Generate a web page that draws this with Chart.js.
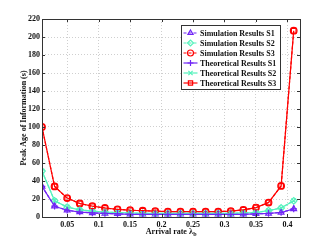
<!DOCTYPE html>
<html>
<head>
<meta charset="utf-8">
<script src="https://cdn.jsdelivr.net/npm/chart.js@4/dist/chart.umd.min.js"></script>
<style>
html,body{margin:0;padding:0;background:#fff;}
canvas{display:block;}
</style>
</head>
<body>
<canvas id="c" width="325" height="244"></canvas>
<script>
const arrivalRates = [0.01,0.03,0.05,0.07,0.09,0.11,0.13,0.15,0.17,0.19,0.21,0.23,0.25,0.27,0.29,0.31,0.33,0.35,0.37,0.39,0.41];
const simS1 = [34,12,7.5,5.5,4.5,4,3.5,3,3,3,3,3,3,3,3,3,3,3.5,4,5,9];
const simS2 = [51,18,11,8,6.5,5.5,5,4.5,4,4,4,4,4,4,4,4,4.5,5,7,10,18];
const simS3 = [100,34,21,15,12,10,8.5,7.5,7,6.5,6,6,6,6,6,6.5,8,10.5,16,34.5,207];
const theoS1 = [34,12,7.5,5.5,4.5,4,3.5,3,3,3,3,3,3,3,3,3,3,3.5,4,5,9];
const theoS2 = [51,18,11,8,6.5,5.5,5,4.5,4,4,4,4,4,4,4,4,4.5,5,7,10,18];
const theoS3 = [100,34,21,15,12,10,8.5,7.5,7,6.5,6,6,6,6,6,6.5,8,10.5,16,34.5,207];
const xTicks = [0.05,0.1,0.15,0.2,0.25,0.3,0.35,0.4];
const yTicks = [0,20,40,60,80,100,120,140,160,180,200,220];
const seriesNames = ['Simulation Results S1','Simulation Results S2','Simulation Results S3','Theoretical Results S1','Theoretical Results S2','Theoretical Results S3'];
const xTitleMain = 'Arrival rate λ';
const xTitleSub = 'b';
const yTitle = 'Peak Age of Information (s)';

const C1 = '#7025f5', C2 = '#55f2bc', C3 = '#ff0000';
const FAMILY = '"Liberation Serif", "Times New Roman", serif';
const FONT = {family: FAMILY, size: 8, weight: 'bold'};

function pts(v){ return arrivalRates.map((x,i)=>({x:x,y:v[i]})); }
function ds(label, data, color, style, dashed){
  return {label, data: pts(data), borderColor: color, backgroundColor: 'rgba(0,0,0,0)',
    pointBorderColor: color, pointBackgroundColor: 'rgba(0,0,0,0)', pointStyle: style,
    pointRadius: 3.3, pointBorderWidth: 1.2, borderWidth: 1.2, borderDash: dashed ? [3,2] : [],
    showLine: true, tension: 0};
}
const datasets = [
  ds(seriesNames[3], theoS1, C1, 'cross', false),
  ds(seriesNames[4], theoS2, C2, 'crossRot', false),
  ds(seriesNames[5], theoS3, C3, 'rect', false),
  ds(seriesNames[0], simS1, C1, 'triangle', true),
  ds(seriesNames[1], simS2, C2, 'rectRot', true),
  ds(seriesNames[2], simS3, C3, 'circle', true)
];
const legendOrder = [3,4,5,0,1,2];

const framePlugin = {
  id: 'frame',
  afterDraw(chart){
    const {ctx, chartArea: a, scales} = chart;
    ctx.save();
    ctx.strokeStyle = '#333'; ctx.lineWidth = 1; ctx.setLineDash([]);
    ctx.strokeRect(Math.round(a.left)+0.5, Math.round(a.top)+0.5, Math.round(a.right-a.left), Math.round(a.bottom-a.top));
    const tl = 3;
    ctx.beginPath();
    xTicks.forEach(v=>{ const x = Math.round(scales.x.getPixelForValue(v))+0.5;
      ctx.moveTo(x,a.bottom); ctx.lineTo(x,a.bottom-tl); ctx.moveTo(x,a.top); ctx.lineTo(x,a.top+tl); });
    yTicks.forEach(v=>{ const y = Math.round(scales.y.getPixelForValue(v))+0.5;
      ctx.moveTo(a.left,y); ctx.lineTo(a.left+tl,y); ctx.moveTo(a.right,y); ctx.lineTo(a.right-tl,y); });
    ctx.stroke();
    // x-axis title with subscript
    ctx.fillStyle = '#111';
    ctx.textBaseline = 'middle';
    const fMain = 'bold 8px ' + FAMILY, fSub = 'bold 6px ' + FAMILY;
    ctx.font = fMain; const w1 = ctx.measureText(xTitleMain).width;
    ctx.font = fSub; const w2 = ctx.measureText(xTitleSub).width;
    const cx = (a.left + a.right) / 2, ty = a.bottom + 15;
    let sx = cx - (w1 + w2) / 2;
    ctx.textAlign = 'left';
    ctx.font = fMain; ctx.fillText(xTitleMain, sx, ty);
    ctx.font = fSub; ctx.fillText(xTitleSub, sx + w1 + 0.3, ty + 2.5);
    // legend
    const bx = Math.round(a.right - 119.5)+0.5, by = Math.round(a.top + 6)+0.5, bw = 99, bh = 64;
    ctx.fillStyle = '#fff'; ctx.fillRect(bx, by, bw, bh);
    ctx.strokeStyle = '#333'; ctx.strokeRect(bx, by, bw, bh);
    ctx.font = fMain;
    ctx.textBaseline = 'middle'; ctx.textAlign = 'left';
    legendOrder.forEach((di, r)=>{
      const d = datasets[di];
      const y = by + 7.5 + r*10;
      ctx.save();
      ctx.strokeStyle = d.borderColor; ctx.lineWidth = 1.2; ctx.setLineDash(d.borderDash);
      ctx.beginPath(); ctx.moveTo(bx+2, y); ctx.lineTo(bx+16, y); ctx.stroke();
      ctx.setLineDash([]);
      ctx.fillStyle = 'rgba(0,0,0,0)';
      Chart.helpers.drawPoint(ctx, {pointStyle: d.pointStyle, radius: 3, rotation: 0, borderWidth: 1.2}, bx+9, y);
      ctx.restore();
      ctx.fillStyle = '#111';
      ctx.fillText(d.label, bx+18.5, y+0.5);
    });
    ctx.restore();
  }
};

new Chart(document.getElementById('c'), {
  type: 'scatter',
  data: {datasets},
  options: {
    responsive: false, animation: false, devicePixelRatio: 1,
    layout: {padding: {left: 19, right: 25, top: 19, bottom: 7}},
    plugins: {legend: {display: false}, tooltip: {enabled: false}},
    scales: {
      x: {
        type: 'linear', min: 0.01, max: 0.42,
        afterBuildTicks: s => { s.ticks = xTicks.map(v=>({value:v})); },
        afterFit: s => { s.height = 20; },
        grid: {color: '#cfcfcf', lineWidth: 1, drawTicks: false},
        border: {display: false, dash: [1,2]},
        ticks: {font: FONT, color: '#111', padding: 3, maxRotation: 0, autoSkip: false,
          callback: v => String(v)},
        title: {display: false}
      },
      y: {
        type: 'linear', min: 0, max: 220,
        afterBuildTicks: s => { s.ticks = yTicks.map(v=>({value:v})); },
        afterFit: s => { s.width = 23; },
        grid: {color: '#cfcfcf', lineWidth: 1, drawTicks: false},
        border: {display: false, dash: [1,2]},
        ticks: {font: FONT, color: '#111', padding: 2, autoSkip: false},
        title: {display: true, text: yTitle, font: FONT, color: '#111', padding: 0}
      }
    }
  },
  plugins: [framePlugin]
});
</script>
</body>
</html>
